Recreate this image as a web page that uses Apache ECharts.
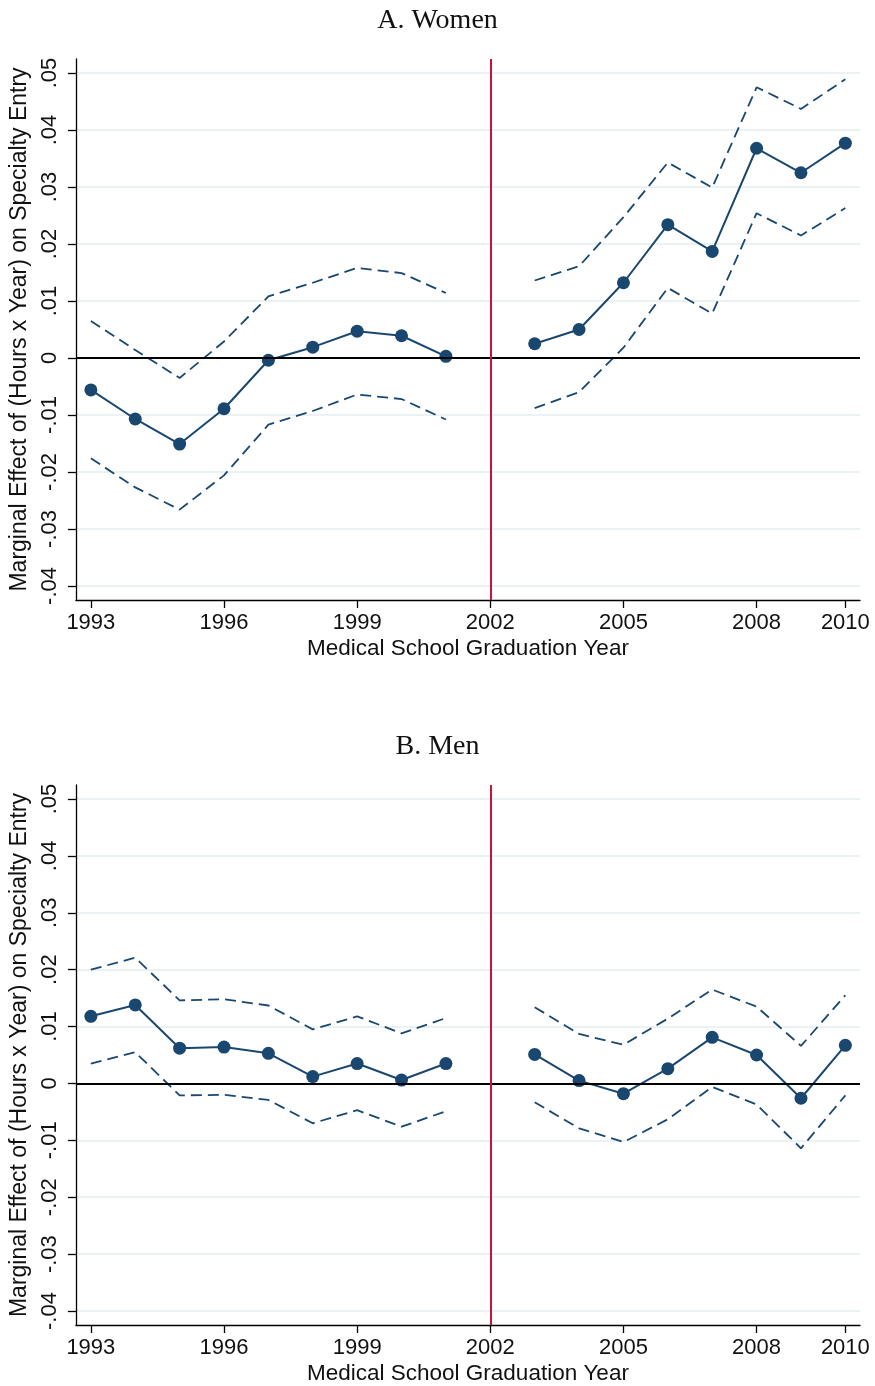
<!DOCTYPE html>
<html>
<head>
<meta charset="utf-8">
<script src="https://cdn.jsdelivr.net/npm/echarts@6/dist/echarts.min.js"></script>
<style>html,body{margin:0;padding:0;background:#fff}#c{width:875px;height:1386px}</style>
</head>
<body>
<div id="c"></div>
<script>
const years = [1993,1994,1995,1996,1997,1998,1999,2000,2001,2002,2003,2004,2005,2006,2007,2008,2009,2010];
const xTicks = [1993,1996,1999,2002,2005,2008,2010];
const yTicks = [-0.04,-0.03,-0.02,-0.01,0,0.01,0.02,0.03,0.04,0.05];
const yTickLabels = ['-.04','-.03','-.02','-.01','0','.01','.02','.03','.04','.05'];
const panelTitles = ['A. Women','B. Men'];
const xTitle = 'Medical School Graduation Year';
const yTitle = 'Marginal Effect of (Hours x Year) on Specialty Entry';

const womenEst   = [-0.0056,-0.0107,-0.0151,-0.0089,-0.0004,0.0019,0.0047,0.0039,0.0003,null,0.0025,0.0050,0.0132,0.0234,0.0187,0.0368,0.0325,0.0377];
const womenUpper = [0.0065,0.0014,-0.0035,0.0029,0.0108,0.0132,0.0158,0.0149,0.0114,null,0.0136,0.0161,0.0247,0.0343,0.0299,0.0475,0.0437,0.0489];
const womenLower = [-0.0176,-0.0227,-0.0266,-0.0206,-0.0117,-0.0093,-0.0064,-0.0072,-0.0108,null,-0.0088,-0.0060,0.0018,0.0123,0.0078,0.0254,0.0215,0.0263];

const menEst   = [0.0118,0.0138,0.0062,0.0064,0.0053,0.0012,0.0035,0.0006,0.0035,null,0.0051,0.0005,-0.0018,0.0026,0.0081,0.0050,-0.0026,0.0067];
const menUpper = [0.0200,0.0221,0.0146,0.0148,0.0137,0.0095,0.0118,0.0088,0.0115,null,0.0134,0.0087,0.0068,0.0114,0.0165,0.0135,0.0066,0.0155];
const menLower = [0.0035,0.0055,-0.0021,-0.0020,-0.0029,-0.0070,-0.0047,-0.0076,-0.0049,null,-0.0033,-0.0079,-0.0103,-0.0063,-0.0006,-0.0037,-0.0114,-0.0021];

const navy = '#1a476f';
const red = '#c8143c';
const gridTops = [59, 785];
const panels = [[womenEst,womenUpper,womenLower],[menEst,menUpper,menLower]];

const pairs = arr => years.map((y,i)=>[y, arr[i]]);

const option = {
  animation:false,
  backgroundColor:'#fff',
  title: panelTitles.map((t,i)=>({
    text:t, left:'center', top: gridTops[i]-57,
    textStyle:{fontFamily:'Liberation Serif', fontWeight:'normal', fontSize:28, color:'#111'}
  })),
  grid: gridTops.map(t=>({left:73, top:t, width:787, height:541, containLabel:false})),
  xAxis: gridTops.map((t,i)=>({
    type:'value', gridIndex:i, min:1992.663, max:2010.33,
    name:xTitle, nameLocation:'middle', nameGap:37,
    nameTextStyle:{fontFamily:'Liberation Sans', fontSize:22.5, color:'#111'},
    axisLine:{show:true, onZero:false, lineStyle:{color:'#000', width:1.3}},
    axisTick:{show:true, length:8, customValues:xTicks, lineStyle:{color:'#000', width:1.3}},
    axisLabel:{customValues:xTicks, margin:12, fontFamily:'Liberation Sans', fontSize:22, color:'#111', formatter:v=>String(v)},
    splitLine:{show:false}
  })),
  yAxis: gridTops.map((t,i)=>({
    type:'value', gridIndex:i, min:-0.04246, max:0.05246,
    name:yTitle, nameLocation:'middle', nameGap:38, nameRotate:90,
    nameTextStyle:{fontFamily:'Liberation Sans', fontSize:23, color:'#111'},
    axisLine:{show:true, onZero:false, lineStyle:{color:'#000', width:1.3}},
    axisTick:{show:true, length:8, customValues:yTicks, lineStyle:{color:'#000', width:1.3}},
    axisLabel:{customValues:yTicks, rotate:90, margin:15, fontFamily:'Liberation Sans', fontSize:22, color:'#111',
      formatter:v=>{const k=yTicks.findIndex(x=>Math.abs(x-v)<1e-9); return k>=0?yTickLabels[k]:'';}},
    splitLine:{show:true, lineStyle:{color:'#eaf2f3', width:2}}
  })),
  series: []
};

panels.forEach((p,i)=>{
  option.series.push({
    type:'line', xAxisIndex:i, yAxisIndex:i, data:[], silent:true, symbol:'none',
    markLine:{silent:true, symbol:'none', label:{show:false}, animation:false,
      data:[
        {yAxis:0, lineStyle:{color:'#000', width:2, type:'solid'}},
        {xAxis:2002, lineStyle:{color:red, width:2, type:'solid'}}
      ]}
  });
  option.series.push({
    type:'line', xAxisIndex:i, yAxisIndex:i, data:pairs(p[1]), symbol:'none', connectNulls:false,
    lineStyle:{color:navy, width:1.8, type:[11,6]}, z:3
  });
  option.series.push({
    type:'line', xAxisIndex:i, yAxisIndex:i, data:pairs(p[2]), symbol:'none', connectNulls:false,
    lineStyle:{color:navy, width:1.8, type:[11,6]}, z:3
  });
  option.series.push({
    type:'line', xAxisIndex:i, yAxisIndex:i, data:pairs(p[0]), symbol:'circle', symbolSize:13, connectNulls:false,
    itemStyle:{color:navy}, lineStyle:{color:navy, width:2}, z:4
  });
});

const chart = echarts.init(document.getElementById('c'), null, {renderer:'canvas'});
chart.setOption(option);
</script>
</body>
</html>
